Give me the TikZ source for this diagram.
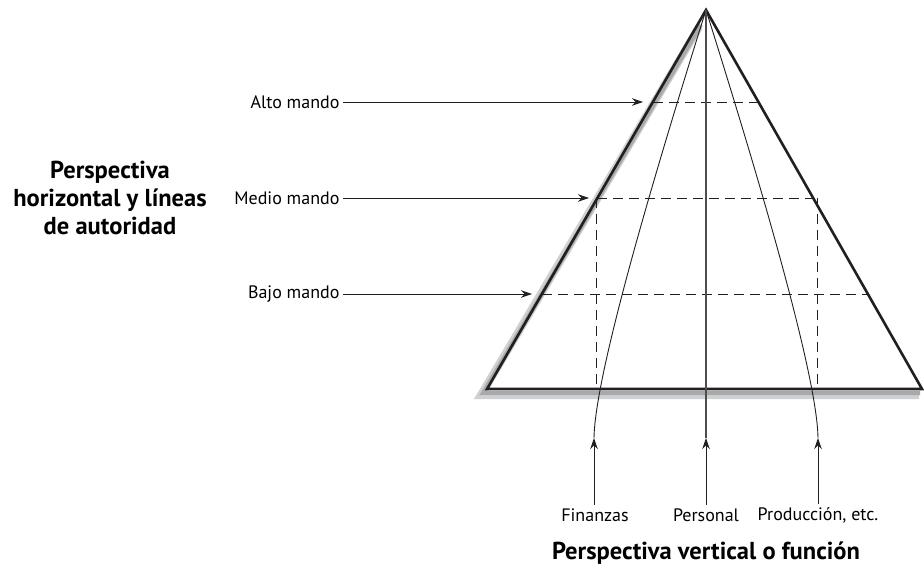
\documentclass[tikz,border=0pt]{standalone}
\usepackage{fontspec}
\setsansfont{PT Sans}
\usetikzlibrary{positioning,arrows.meta,calc}
\definecolor{PyInk}{HTML}{231F20}
\definecolor{PyShade}{HTML}{A7A9AC}

\begin{document}
\begin{tikzpicture}[x=1pt,y=-1pt, font=\sffamily\fontsize{18}{21}\selectfont,
  lvlarrow/.style={-{Stealth[length=11pt,width=7.5pt]}, line width=0.9pt, PyInk},
  grid/.style={dash pattern=on 10pt off 6pt, line width=0.9pt, PyInk},
  func/.style={line width=0.9pt, PyInk},
  title/.style={font=\sffamily\bfseries\fontsize{24.5}{28}\selectfont, align=center}]
\useasboundingbox (0,0) rectangle (924,568);
\coordinate (apex) at (706,10);
\coordinate (bl) at (487,389);
\coordinate (br) at (922,389);
% sombra de la piramide
\draw[line width=8pt, PyShade!55, line join=miter] (699,27) -- (481,395) -- (919,395);
\draw[line width=4pt, PyShade, line join=miter] (701,25) -- (483,393) -- (920,393);
% niveles (lineas discontinuas)
\draw[grid] (653,102) -- (762,102);
\draw[grid] (597,198) -- (813,198);
\draw[grid] (542,294) -- (868,294);
\draw[grid] (596,198) -- (596,389);
\draw[grid] (817,198) -- (817,389);
% piramide
\draw[line width=2.6pt, PyInk, line join=miter] (apex) -- (bl) -- (br) -- cycle;
% etiquetas de mando
\node[anchor=east] (alto) at (343,102) {Alto mando};
\node[anchor=east] (medio) at (343,198) {Medio mando};
\node[anchor=east] (bajo) at (343,294) {Bajo mando};
\coordinate (altoend) at (643,102);
\coordinate (medioend) at (589,198);
\coordinate (bajoend) at (532,294);
\draw[lvlarrow] (alto) -- (altoend);
\draw[lvlarrow] (medio) -- (medioend);
\draw[lvlarrow] (bajo) -- (bajoend);
% funciones
\node (fin) at (595,515) {Finanzas};
\node (pers) at (706,515) {Personal};
\node (prod) at (818,515) {Producción, etc.};
\coordinate (fintip) at (594,438);
\coordinate (perstip) at (706,438);
\coordinate (prodtip) at (818,438);
\draw[lvlarrow] (fin.north -| fintip) -- (fintip);
\draw[lvlarrow] (pers) -- (perstip);
\draw[lvlarrow] (prod) -- (prodtip);
\draw[func] (fintip) .. controls (595,370) and (662,150) .. (apex);
\draw[func] (prodtip) .. controls (817,370) and (750,150) .. (apex);
\draw[line width=1.4pt, PyInk!80] (perstip) -- (apex);
% titulos
\node[title] (horiz) at (110,198) {Perspectiva\\horizontal y líneas\\de autoridad};
\node[title] (vert) at (706,553) {Perspectiva vertical o función};
\end{tikzpicture}
\end{document}
